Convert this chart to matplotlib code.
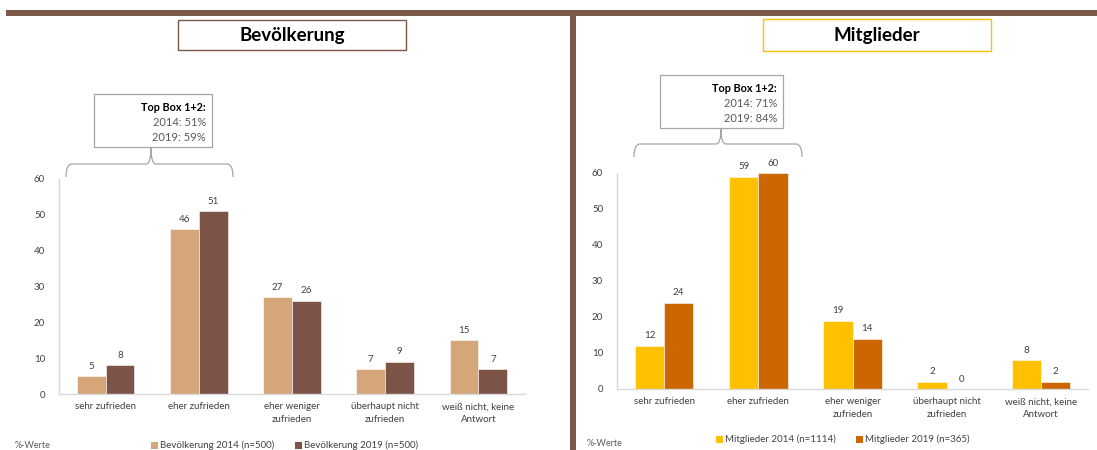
import matplotlib
matplotlib.use("Agg")
import matplotlib.pyplot as plt
from matplotlib.patches import Rectangle, PathPatch
from matplotlib.path import Path
import numpy as np

plt.rcParams['font.family'] = ['Lato', 'DejaVu Sans']

categories = ["sehr zufrieden", "eher zufrieden", "eher weniger\nzufrieden",
              "überhaupt nicht\nzufrieden", "weiß nicht, keine\nAntwort"]

bev_2014 = [5, 46, 27, 7, 15]
bev_2019 = [8, 51, 26, 9, 7]
mit_2014 = [12, 59, 19, 2, 8]
mit_2019 = [24, 60, 14, 0, 2]

bev_labels = ["Bevölkerung 2014 (n=500)", "Bevölkerung 2019 (n=500)"]
mit_labels = ["Mitglieder 2014 (n=1114)", "Mitglieder 2019 (n=365)"]
bev_topbox = ["Top Box 1+2:", "2014: 51%", "2019: 59%"]
mit_topbox = ["Top Box 1+2:", "2014: 71%", "2019: 84%"]

BROWN = "#7B5848"
TAN = "#D4A679"
DARK = "#7B5447"
GOLD = "#FFC000"
ORANGE = "#CC6600"
TXT = "#404040"
GRAY = "#595959"

W, H = 1097, 450
fig = plt.figure(figsize=(W / 100, H / 100), dpi=100)


def px_axes(x0, y0, x1, y1):
    # axes placed by pixel box (top-left origin)
    return fig.add_axes([x0 / W, (H - y1) / H, (x1 - x0) / W, (y1 - y0) / H])


def bar_panel(ax, v1, v2, c1, c2):
    x = np.arange(len(categories))
    bw = 0.31
    ax.bar(x - bw / 2, v1, bw, color=c1, edgecolor="white", linewidth=0.4)
    ax.bar(x + bw / 2, v2, bw, color=c2, edgecolor="white", linewidth=0.4)
    for xi, a, b in zip(x, v1, v2):
        ax.text(xi - bw / 2, a + 1.5, str(a), ha="center", va="bottom",
                fontsize=7, color=TXT)
        ax.text(xi + bw / 2, b + 1.5, str(b), ha="center", va="bottom",
                fontsize=7, color=TXT)
    ax.set_xlim(-0.5, len(categories) - 0.5)
    ax.set_ylim(0, 60)
    ax.set_yticks(range(0, 61, 10))
    ax.set_xticks(x)
    ax.set_xticklabels(categories, fontsize=7, color=TXT, linespacing=1.55)
    ax.tick_params(axis="both", length=0, labelsize=7, labelcolor=TXT)
    ax.tick_params(axis="x", pad=6)
    ax.tick_params(axis="y", pad=10)
    for s in ("top", "right"):
        ax.spines[s].set_visible(False)
    for s in ("left", "bottom"):
        ax.spines[s].set_color("#D9D9D9")
        ax.spines[s].set_linewidth(1.0)
    ax.set_facecolor("none")


ax1 = px_axes(59, 179, 525, 394)
bar_panel(ax1, bev_2014, bev_2019, TAN, DARK)
ax2 = px_axes(617, 173, 1088, 389)
bar_panel(ax2, mit_2014, mit_2019, GOLD, ORANGE)

# overlay in pixel coordinates for frames, boxes and braces
ov = fig.add_axes([0, 0, 1, 1], zorder=5)
ov.set_xlim(0, W)
ov.set_ylim(H, 0)
ov.axis("off")
ov.patch.set_alpha(0)

ov.add_patch(Rectangle((6, 10), W - 6, 6, color=BROWN, lw=0))
ov.add_patch(Rectangle((570, 10), 6, H - 10, color=BROWN, lw=0))

# panel titles
ov.add_patch(Rectangle((178, 20), 228, 30, fc="white", ec=BROWN, lw=1.0))
ov.text(292, 35.5, "Bevölkerung", ha="center", va="center", fontsize=13.5,
        fontweight="bold", color="black")
ov.add_patch(Rectangle((763, 19), 228, 32, fc="white", ec=GOLD, lw=1.0))
ov.text(877, 35.5, "Mitglieder", ha="center", va="center", fontsize=13.5,
        fontweight="bold", color="black")


def top_box(x0, y0, x1, y1, lines):
    ov.add_patch(Rectangle((x0, y0), x1 - x0, y1 - y0, fc="white",
                           ec="#A6A6A6", lw=0.9))
    step = (y1 - y0) / 3.6
    ov.text(x1 - 6, y0 + step * 0.95, lines[0], ha="right", va="center",
            fontsize=7.8, fontweight="bold", color="black")
    ov.text(x1 - 6, y0 + step * 1.95, lines[1], ha="right", va="center",
            fontsize=8, color=GRAY)
    ov.text(x1 - 6, y0 + step * 2.95, lines[2], ha="right", va="center",
            fontsize=8, color=GRAY)


def brace(x0, x1, xm, y_end, y_mid, y_tip):
    verts = [(x0, y_end), (x0, y_mid), (x0 + 6, y_mid), (x0 + 6, y_mid),
             (xm - 5, y_mid), (xm, y_mid), (xm, y_tip),
             (xm, y_mid), (xm + 5, y_mid), (x1 - 6, y_mid),
             (x1 - 6, y_mid), (x1, y_mid), (x1, y_end)]
    codes = [Path.MOVETO, Path.CURVE3, Path.CURVE3, Path.LINETO,
             Path.LINETO, Path.CURVE3, Path.CURVE3,
             Path.CURVE3, Path.CURVE3, Path.LINETO,
             Path.LINETO, Path.CURVE3, Path.CURVE3]
    ov.add_patch(PathPatch(Path(verts, codes), fc="none", ec="#A6A6A6", lw=0.9))


top_box(94, 94, 212, 147, bev_topbox)
brace(66, 233, 151, 177, 164, 148)
top_box(660, 75, 783, 128, mit_topbox)
brace(634, 802, 721, 157, 144, 129)


def legend(x_a, x_b, y, labels, c1, c2):
    for xs, lab, c in ((x_a, labels[0], c1), (x_b, labels[1], c2)):
        ov.add_patch(Rectangle((xs, y - 3.5), 7, 7, color=c, lw=0))
        ov.text(xs + 9, y, lab, ha="left", va="center", fontsize=7, color=TXT)


legend(151, 295, 445, bev_labels, TAN, DARK)
legend(716, 856, 439, mit_labels, GOLD, ORANGE)

ov.text(15, 445, "%-Werte", ha="left", va="center", fontsize=6.5, color=GRAY)
ov.text(587, 443, "%-Werte", ha="left", va="center", fontsize=6.5, color=GRAY)

fig.savefig("out.png", dpi=100)
